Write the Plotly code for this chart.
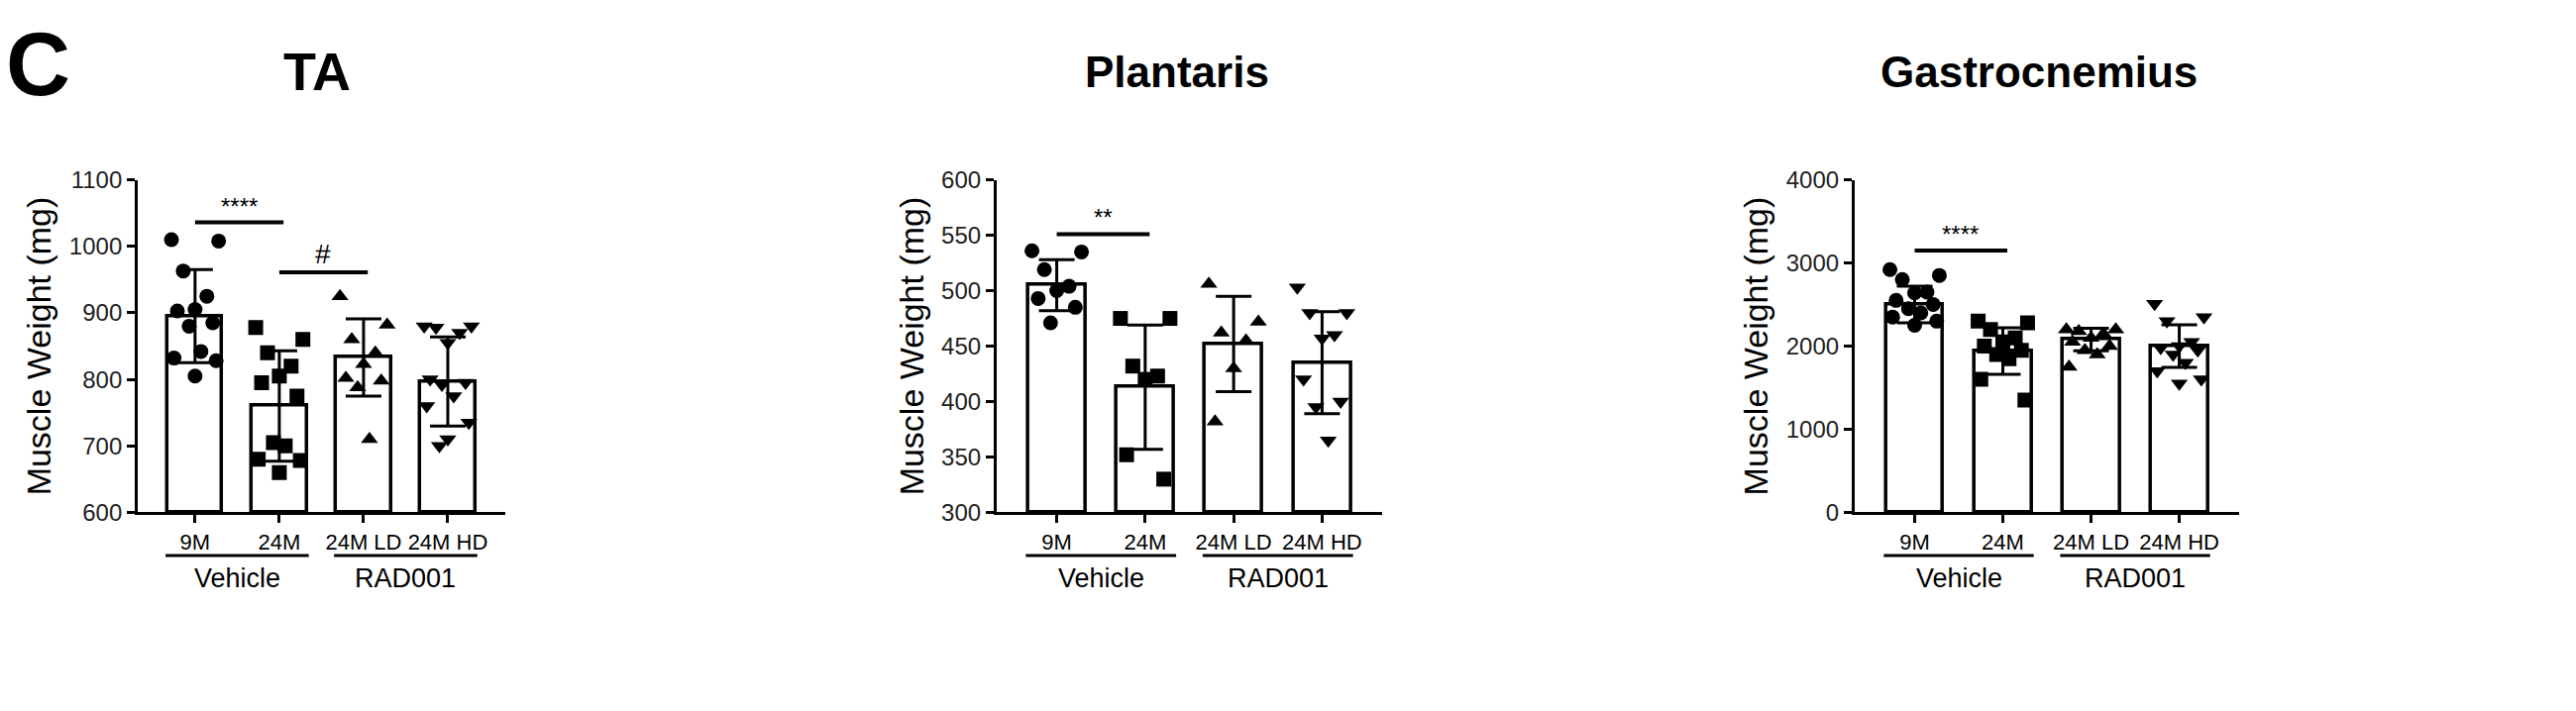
import plotly.graph_objects as go

groups = ["9M", "24M", "24M LD", "24M HD"]
symbols = ["circle", "square", "triangle-up", "triangle-down"]

# TA
ta_pts = [
    [1010, 1008, 963, 925, 905, 903, 885, 880, 842, 832, 828, 805],
    [878, 860, 840, 820, 805, 795, 775, 705, 700, 680, 678, 660],
    [925, 882, 860, 840, 823, 802, 798, 788, 710],
    [880, 880, 878, 870, 855, 800, 795, 792, 775, 760, 735, 710, 700],
]
ta_mean = [895, 760, 833, 797]
ta_sd = [70, 83, 58, 67]

# Plantaris
pl_pts = [
    [536, 535, 519, 504, 500, 493, 485, 471],
    [475, 475, 432, 423, 420, 352, 330],
    [506, 472, 462, 455, 430, 382],
    [503, 480, 480, 460, 457, 420, 400, 395, 365],
]
pl_mean = [505, 413, 452, 435]
pl_sd = [23, 56, 43, 46]

# Gastrocnemius
ga_pts = [
    [2920, 2850, 2800, 2650, 2640, 2550, 2500, 2450, 2400, 2350, 2300, 2250],
    [2300, 2280, 2200, 2100, 2050, 2000, 1950, 1900, 1850, 1600, 1350],
    [2200, 2200, 2180, 2150, 2100, 2050, 2000, 1950, 1900, 1750],
    [2510, 2350, 2300, 2050, 2000, 1980, 1950, 1900, 1800, 1700, 1600, 1550],
]
ga_mean = [2500, 1940, 2080, 2000]
ga_sd = [220, 280, 135, 255]

panels = [
    ("TA", 54, ta_pts, ta_mean, ta_sd, [600, 1100], 100, [0.0504, 0.193], 312,
     [(0, 1, 1036, "****"), (1, 2, 961, "#")]),
    ("Plantaris", 44, pl_pts, pl_mean, pl_sd, [300, 600], 50, [0.3838, 0.5335], 1180,
     [(0, 1, 551, "**")]),
    ("Gastrocnemius", 44, ga_pts, ga_mean, ga_sd, [0, 4000], 1000, [0.7169, 0.8662], 2050,
     [(0, 1, 3150, "****")]),
]

FONT = "Liberation Sans, Arial, sans-serif"
offs = [-0.28, 0.28, -0.14, 0.14, 0.0, -0.21, 0.21, -0.07, 0.07, -0.25, 0.25, 0.0, -0.1]

fig = go.Figure()
ydom = [0.283, 0.769]
for i, (title, tsize, pts, mean, sd, yr, dt, xdom, tx, sig) in enumerate(panels):
    n = "" if i == 0 else str(i + 1)
    xa, ya = "x" + n, "y" + n
    fig.add_trace(go.Bar(
        x=list(range(4)), y=[m - yr[0] for m in mean], base=yr[0], width=0.65,
        xaxis=xa, yaxis=ya,
        marker=dict(color="white", line=dict(color="black", width=3.5)),
        showlegend=False,
    ))
    for g in range(4):
        ys = pts[g]
        xs = [g + offs[k % len(offs)] for k in range(len(ys))]
        fig.add_trace(go.Scatter(
            x=xs, y=ys, mode="markers", xaxis=xa, yaxis=ya, showlegend=False,
            marker=dict(symbol=symbols[g], size=15, color="black"),
        ))
    fig.add_trace(go.Scatter(
        x=list(range(4)), y=mean, mode="markers", xaxis=xa, yaxis=ya,
        marker=dict(size=1, color="rgba(0,0,0,0)"), showlegend=False,
        error_y=dict(type="data", array=sd, color="black", thickness=3, width=18),
    ))
    fig.layout["xaxis" + n] = dict(
        domain=xdom, anchor=ya, range=[-0.68, 3.68], tickvals=list(range(4)),
        ticktext=groups, showline=True, linecolor="black", linewidth=3,
        ticks="outside", ticklen=8, tickwidth=3, tickcolor="black",
        showgrid=False, zeroline=False, tickfont=dict(size=22, family=FONT, color="black"),
    )
    fig.layout["yaxis" + n] = dict(
        domain=ydom, anchor=xa, range=yr, dtick=dt, showline=True, linecolor="black",
        linewidth=3, ticks="outside", ticklen=8, tickwidth=3, tickcolor="black",
        showgrid=False, zeroline=False, tickfont=dict(size=24, family=FONT, color="#222"),
        title=dict(text="Muscle Weight (mg)", font=dict(size=34, family=FONT, color="black"),
                   standoff=8),
    )
    fig.add_annotation(x=tx / 2600, y=1 - 52 / 718, xref="paper", yref="paper",
                       xanchor="center", yanchor="middle",
                       text="<b>%s</b>" % title, showarrow=False,
                       font=dict(size=tsize, family=FONT, color="black"))
    for a, b, yv, lab in sig:
        fig.add_shape(type="line", xref=xa, yref=ya, x0=a, x1=b + 0.05, y0=yv, y1=yv,
                      line=dict(color="black", width=4))
        fig.add_annotation(x=(a + b) / 2 + 0.02, y=yv, xref=xa, yref=ya, text=lab,
                           showarrow=False, yanchor="bottom", yshift=1,
                           font=dict(size=28 if lab == "#" else 24, family=FONT, color="black"))
    for x0, x1, lab in [(-0.35, 1.35, "Vehicle"), (1.65, 3.35, "RAD001")]:
        fig.add_shape(type="line", xref=xa, yref="paper", x0=x0, x1=x1,
                      y0=1 - 560 / 718, y1=1 - 560 / 718, line=dict(color="black", width=3))
        fig.add_annotation(x=(x0 + x1) / 2, y=1 - 584 / 718, xref=xa, yref="paper",
                           xanchor="center", yanchor="middle",
                           text=lab, showarrow=False,
                           font=dict(size=27, family=FONT, color="black"))

fig.add_annotation(x=30 / 2600, y=1 - 45 / 718, xref="paper", yref="paper", text="<b>C</b>",
                   xanchor="center", yanchor="middle",
                   showarrow=False, font=dict(size=90, family=FONT, color="black"))

fig.update_layout(width=2600, height=718, margin=dict(l=0, r=0, t=0, b=0),
                  plot_bgcolor="white", paper_bgcolor="white", bargap=0)
fig.write_html("out.html")
